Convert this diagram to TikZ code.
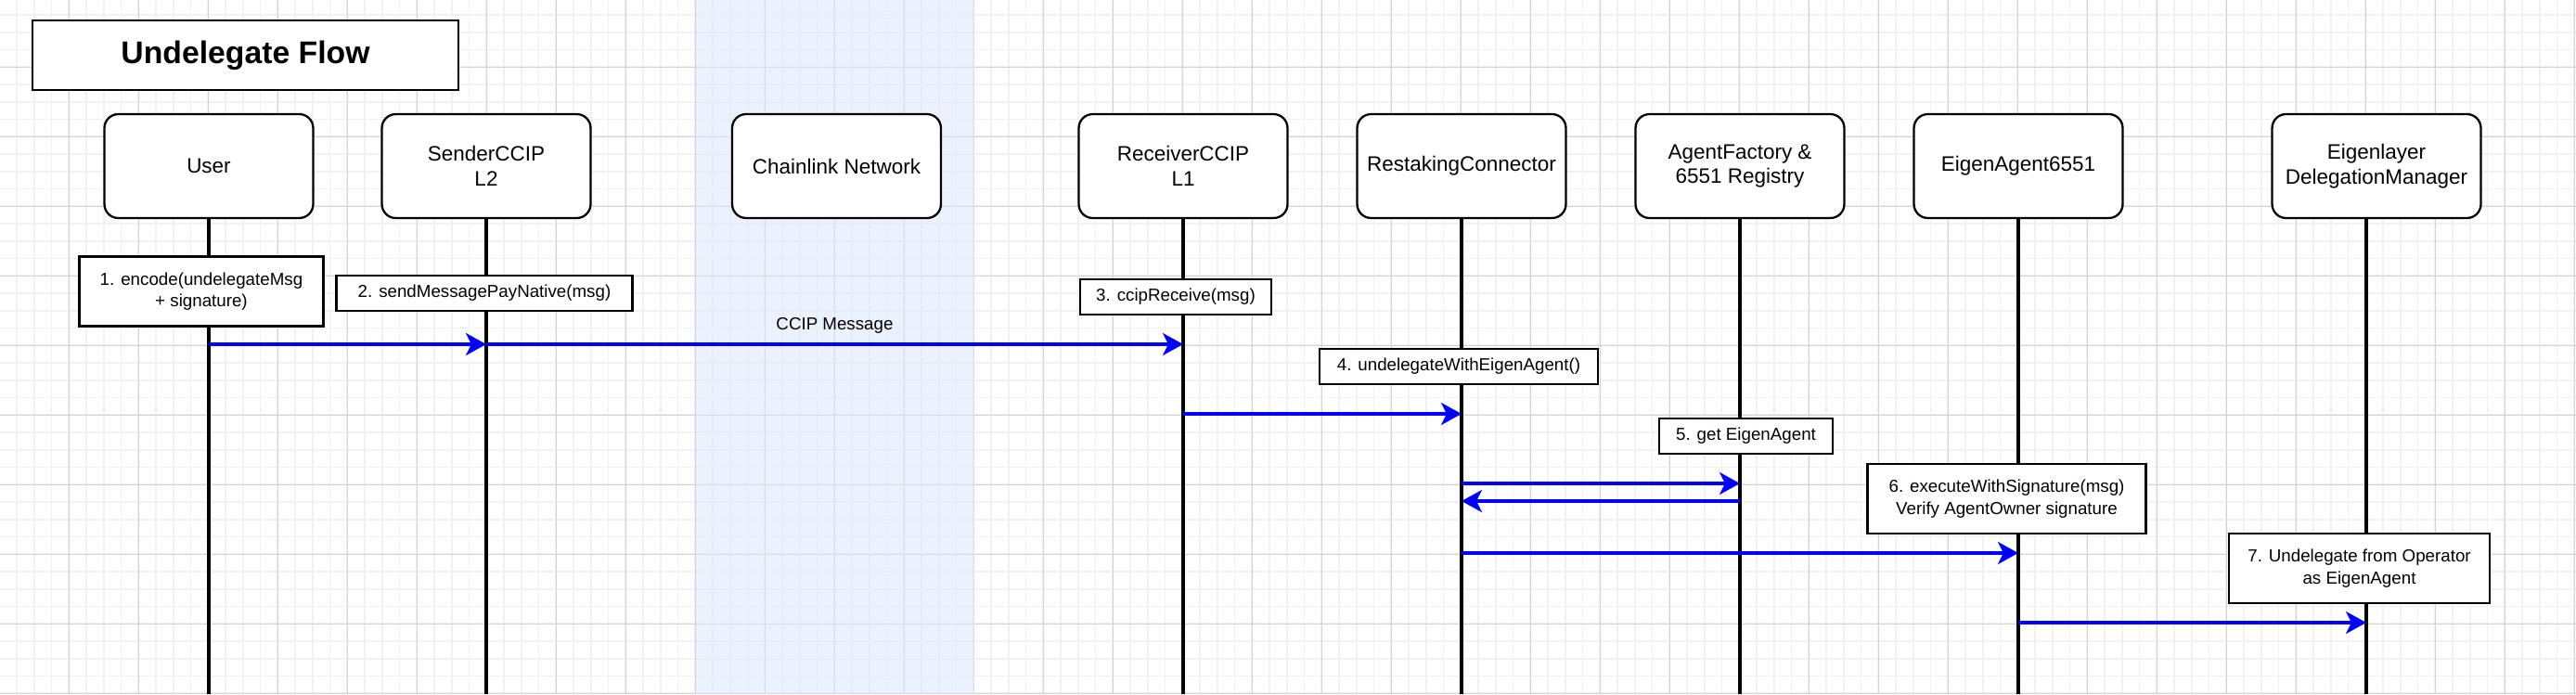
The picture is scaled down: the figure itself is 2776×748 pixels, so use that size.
\documentclass[tikz,border=0pt]{standalone}
\usepackage{fontspec}
\setmainfont{Liberation Sans}
\usetikzlibrary{arrows.meta}
\definecolor{grid-minor}{HTML}{F1F1F1}
\definecolor{grid-major}{HTML}{D3D3D3}
\definecolor{band-blue}{HTML}{DAE8FC}
\definecolor{msg-blue}{HTML}{0000FF}

\begin{document}
\begin{tikzpicture}[x=0.02cm, y=-0.02cm,
    actor/.style={draw, fill=white, line width=1.3pt, rounded corners=0.3cm, minimum width=4.5cm, minimum height=2.24cm, align=center, font=\fontsize{12.8}{15.2}\selectfont},
    stepbox/.style={draw, fill=white, line width=1.4pt, inner sep=0pt, align=center, minimum height=0.76cm, font=\fontsize{10.67}{13.3}\selectfont},
    life/.style={line width=1.9pt},
    msg/.style={draw=msg-blue, line width=2pt, -{Stealth[length=0.44cm, width=0.48cm, inset=0.12cm]}}]
      \useasboundingbox (0,0) rectangle (2776,748);

      \foreach \i in {0,...,148}
        \draw[grid-minor, line width=1pt] ({\i*18.75-0.7},0) -- ++(0,748);
      \foreach \j in {0,...,40}
        \draw[grid-minor, line width=1pt] (0,{\j*18.75-2.7}) -- ++(2776,0);
      \foreach \i in {0,...,37}
        \draw[grid-major, line width=0.7pt] ({\i*75-0.7},0) -- ++(0,748);
      \foreach \j in {0,...,10}
        \draw[grid-major, line width=0.7pt] (0,{\j*75-2.7}) -- ++(2776,0);
      \fill[band-blue, opacity=0.55] (750,0) rectangle (1050,748);

      \node[draw, fill=white, line width=1.4pt, minimum width=9.18cm, minimum height=1.5cm, font=\fontsize{19.2}{23}\selectfont\bfseries] (title) at (264.5,59.5) {Undelegate Flow};

      \node[actor] (user) at (225,179) {User};
      \node[actor] (sender) at (524,179) {SenderCCIP\\L2};
      \node[actor] (chainlink) at (901.5,179) {Chainlink Network};
      \node[actor] (receiver) at (1275,179) {ReceiverCCIP\\L1};
      \node[actor] (restaking) at (1575,179) {RestakingConnector};
      \node[actor] (factory) at (1875,179) {AgentFactory \&\\6551 Registry};
      \node[actor] (agent) at (2175,179) {EigenAgent6551};
      \node[actor] (delegation) at (2561,179) {Eigenlayer\\DelegationManager};

      \coordinate (userEnd) at (225,748);
      \coordinate (senderEnd) at (524,748);
      \coordinate (receiverEnd) at (1275,748);
      \coordinate (restakingEnd) at (1575,748);
      \coordinate (factoryEnd) at (1875,748);
      \coordinate (agentEnd) at (2175,748);
      \coordinate (delegationEnd) at (2550,748);

      \draw[life] (user) -- (userEnd);
      \draw[life] (sender) -- (senderEnd);
      \draw[life] (receiver) -- (receiverEnd);
      \draw[life] (restaking) -- (restakingEnd);
      \draw[life] (factory) -- (factoryEnd);
      \draw[life] (agent) -- (agentEnd);
      \draw[life] (delegation.south -| delegationEnd) -- (delegationEnd);

      \node[stepbox, minimum width=5.26cm, minimum height=1.5cm] (s1) at (217,314) {1. encode(undelegateMsg\\+ signature)};
      \node[stepbox, minimum width=6.38cm] (s2) at (522,316) {2. sendMessagePayNative(msg)};
      \node[stepbox, minimum width=4.12cm] (s3) at (1267,320) {3. ccipReceive(msg)};
      \node[stepbox, minimum width=6cm] (s4) at (1572,395) {4. undelegateWithEigenAgent()};
      \node[stepbox, minimum width=3.74cm] (s5) at (1881.5,470) {5. get EigenAgent};
      \node[stepbox, minimum width=6cm, minimum height=1.5cm] (s6) at (2162.5,537.5) {6. executeWithSignature(msg)\\Verify AgentOwner signature};
      \node[stepbox, minimum width=5.62cm, minimum height=1.5cm] (s7) at (2542.5,612.5) {7. Undelegate from Operator\\as EigenAgent};

      \coordinate (r1) at (0,371);
      \coordinate (r3) at (0,446);
      \coordinate (r4) at (0,521);
      \coordinate (r5) at (0,540);
      \coordinate (r6) at (0,596);
      \coordinate (r7) at (0,671);

      \draw[msg] (userEnd |- r1) -- (senderEnd |- r1);
      \draw[msg] (senderEnd |- r1) -- node[above=2pt, font=\fontsize{10.67}{13.3}\selectfont] (ccip) {CCIP Message} (receiverEnd |- r1);
      \draw[msg] (receiverEnd |- r3) -- (restakingEnd |- r3);
      \draw[msg] (restakingEnd |- r4) -- (factoryEnd |- r4);
      \draw[msg] (factoryEnd |- r5) -- (restakingEnd |- r5);
      \draw[msg] (restakingEnd |- r6) -- (agentEnd |- r6);
      \draw[msg] (agentEnd |- r7) -- (delegationEnd |- r7);
    \end{tikzpicture}
\end{document}
